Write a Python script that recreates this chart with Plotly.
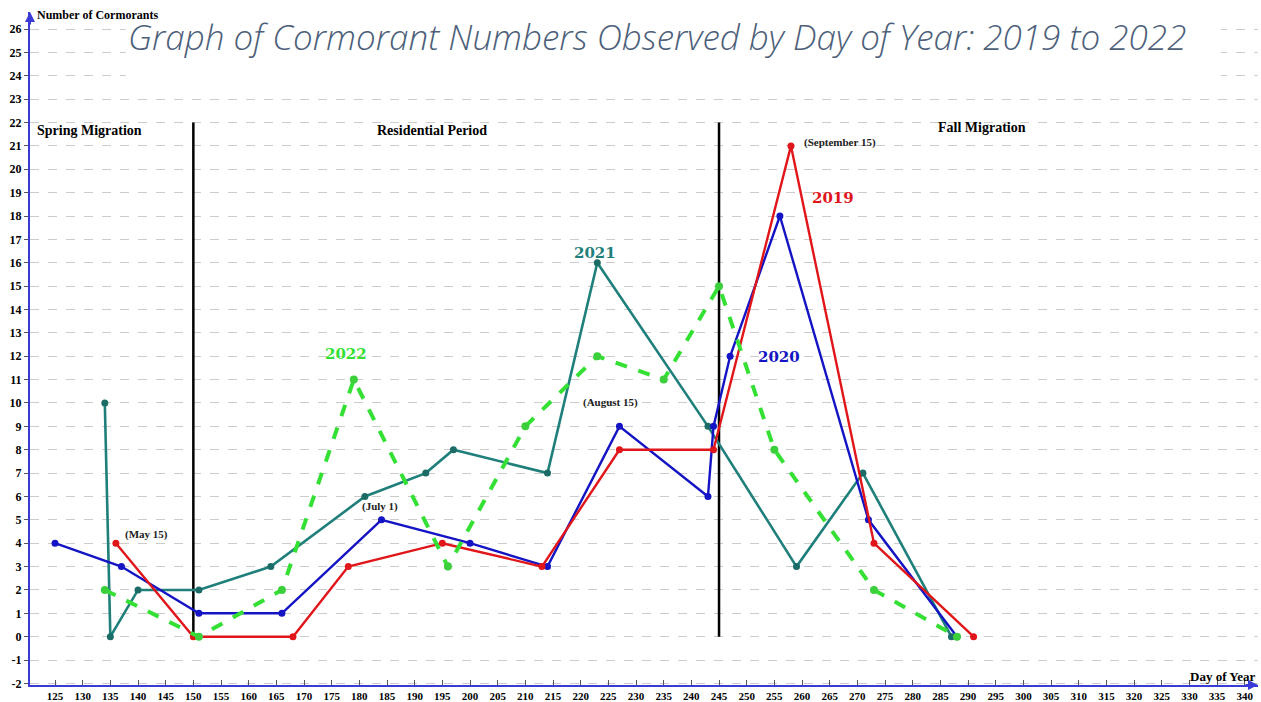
import plotly.graph_objects as go

# Survey counts by day of year
day_2019 = [136, 150, 168, 178, 195, 213, 227, 244, 258, 273, 291]
cnt_2019 = [4, 0, 0, 3, 4, 3, 8, 8, 21, 4, 0]

day_2020 = [125, 137, 151, 166, 184, 200, 214, 227, 243, 244, 247, 256, 272, 288]
cnt_2020 = [4, 3, 1, 1, 5, 4, 3, 9, 6, 9, 12, 18, 5, 0]

day_2021 = [134, 135, 140, 151, 164, 181, 192, 197, 214, 223, 243, 259, 271, 287]
cnt_2021 = [10, 0, 2, 2, 3, 6, 7, 8, 7, 16, 9, 3, 7, 0]

day_2022 = [134, 151, 166, 179, 196, 210, 223, 235, 245, 255, 273, 288]
cnt_2022 = [2, 0, 2, 11, 3, 9, 12, 11, 15, 8, 2, 0]

x_ticks = list(range(125, 341, 5))
y_ticks = list(range(-2, 27))
y_tick_text = [str(v) for v in y_ticks]
period_bounds = [150, 245]

RED = "#e0161a"
BLUE = "#1414c4"
TEAL = "#1f7f7a"
GREEN = "#35e035"
AXIS_BLUE = "#3a3ad6"
SERIF = "Liberation Serif"

X_RANGE = [120.48, 342.4]
Y_RANGE = [-2.067, 26.73]

fig = go.Figure()

fig.add_trace(go.Scatter(x=day_2021, y=cnt_2021, mode="lines+markers", name="2021",
                         line=dict(color=TEAL, width=2.6),
                         marker=dict(color="#1b6c67", size=7)))
fig.add_trace(go.Scatter(x=day_2020, y=cnt_2020, mode="lines+markers", name="2020",
                         line=dict(color=BLUE, width=2.4),
                         marker=dict(color=BLUE, size=7)))
fig.add_trace(go.Scatter(x=day_2019, y=cnt_2019, mode="lines+markers", name="2019",
                         line=dict(color=RED, width=2.4),
                         marker=dict(color=RED, size=7)))
fig.add_trace(go.Scatter(x=day_2022, y=cnt_2022, mode="lines+markers", name="2022",
                         line=dict(color=GREEN, width=4, dash="dash"),
                         marker=dict(color="#3ccf3c", size=8)))

# Season boundaries
for b in period_bounds:
    fig.add_shape(type="line", x0=b, x1=b, y0=0, y1=22, xref="x", yref="y",
                  line=dict(color="black", width=2.5), layer="between")

# White band behind the title
fig.add_shape(type="rect", x0=137.8, x1=335.7, y0=23.5, y1=26.5, xref="x", yref="y",
              fillcolor="white", line=dict(width=0), layer="above")

annotations = [
    dict(x=233.8, y=25.7, text="Graph of Cormorant Numbers Observed by Day of Year: 2019 to 2022",
         font=dict(family="Open Sans", size=35, color="#4d5f7a", style="italic", weight=300),
         xanchor="center", yanchor="middle"),
    dict(x=121.3, y=26.6, text="<b>Number of Cormorants</b>",
         font=dict(family=SERIF, size=12, color="black"), xanchor="left", yanchor="middle"),
    dict(x=342.2, y=-1.72, text="<b>Day of Year</b>",
         font=dict(family=SERIF, size=13, color="black"), xanchor="right", yanchor="middle"),
    dict(x=121.4, y=21.68, text="<b>Spring Migration</b>",
         font=dict(family=SERIF, size=14, color="black"), xanchor="left", yanchor="middle"),
    dict(x=193.1, y=21.64, text="<b>Residential Period</b>",
         font=dict(family=SERIF, size=14, color="black"), xanchor="center", yanchor="middle"),
    dict(x=292.5, y=21.8, text="<b>Fall Migration</b>",
         font=dict(family=SERIF, size=14, color="black"), xanchor="center", yanchor="middle"),
    dict(x=141.6, y=4.39, text="<b>(May 15)</b>",
         font=dict(family=SERIF, size=11, color="#222"), xanchor="center", yanchor="middle"),
    dict(x=183.7, y=5.59, text="<b>(July 1)</b>",
         font=dict(family=SERIF, size=11, color="#222"), xanchor="center", yanchor="middle"),
    dict(x=225.3, y=10.04, text="<b>(August 15)</b>",
         font=dict(family=SERIF, size=11, color="#222"), xanchor="center", yanchor="middle"),
    dict(x=266.9, y=21.16, text="<b>(September 15)</b>",
         font=dict(family=SERIF, size=11, color="#222"), xanchor="center", yanchor="middle"),
    dict(x=265.6, y=18.77, text="<b>2019</b>",
         font=dict(family="DejaVu Serif", size=15, color=RED), xanchor="center", yanchor="middle"),
    dict(x=255.9, y=11.95, text="<b>2020</b>",
         font=dict(family="DejaVu Serif", size=15, color=BLUE), xanchor="center", yanchor="middle"),
    dict(x=222.6, y=16.4, text="<b>2021</b>",
         font=dict(family="DejaVu Serif", size=15, color=TEAL), xanchor="center", yanchor="middle"),
    dict(x=177.6, y=12.1, text="<b>2022</b>",
         font=dict(family="DejaVu Serif", size=15, color=GREEN), xanchor="center", yanchor="middle"),
]
for a in annotations:
    fig.add_annotation(xref="x", yref="y", showarrow=False, **a)

# Arrow heads on both axes
fig.add_annotation(x=X_RANGE[0], y=Y_RANGE[1], xref="x", yref="y", text="", showarrow=True,
                   ax=0, ay=14, arrowhead=2, arrowsize=1, arrowwidth=2, arrowcolor=AXIS_BLUE)
fig.add_annotation(x=X_RANGE[1], y=Y_RANGE[0], xref="x", yref="y", text="", showarrow=True,
                   ax=-14, ay=0, arrowhead=2, arrowsize=1, arrowwidth=2, arrowcolor=AXIS_BLUE)

fig.update_layout(
    width=1261, height=702,
    margin=dict(l=30, r=3, t=12, b=17, autoexpand=False),
    paper_bgcolor="white", plot_bgcolor="white",
    showlegend=False,
    xaxis=dict(range=X_RANGE, tickvals=x_ticks, showgrid=False, zeroline=False,
               automargin=False,
               showline=True, linecolor=AXIS_BLUE, linewidth=2,
               ticks="inside", ticklen=5, tickcolor="#555", ticklabelstandoff=0,
               tickfont=dict(family=SERIF, size=11, color="black", weight="bold")),
    yaxis=dict(range=Y_RANGE, tickvals=y_ticks, ticktext=y_tick_text, showgrid=True,
               gridcolor="#cccccc", griddash="dash", gridwidth=1, zeroline=False,
               automargin=False,
               showline=True, linecolor=AXIS_BLUE, linewidth=2,
               ticks="outside", ticklen=4, tickcolor="#555",
               tickfont=dict(family=SERIF, size=12, color="black", weight="bold")),
)

fig.write_html("out.html")
